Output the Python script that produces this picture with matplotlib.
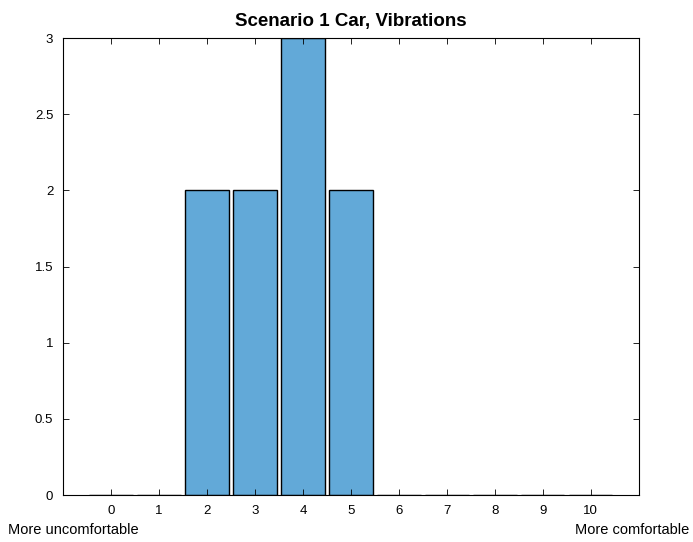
import matplotlib
matplotlib.use("Agg")
import matplotlib.pyplot as plt
import numpy as np

plt.rcParams['font.family'] = ['Liberation Sans', 'DejaVu Sans']

# rating (0 = more uncomfortable, 10 = more comfortable) and number of answers
ratings = [0, 1, 2, 3, 4, 5, 6, 7, 8, 9, 10]
counts = [0, 0, 2, 2, 3, 2, 0, 0, 0, 0, 0]
yticks = [0, 0.5, 1, 1.5, 2, 2.5, 3]

fig = plt.figure(figsize=(6.93, 5.42), dpi=100)
ax = fig.add_axes([0.0909, 0.0867, 0.831, 0.843])

ax.bar(ratings, counts, width=0.9, color='#62a9d8', edgecolor='black', linewidth=1.0)

ax.set_xlim(-1, 11)
ax.set_ylim(0, 3)
ax.set_xticks(ratings)
ax.set_yticks(yticks)
ax.set_yticklabels(['0', '0.5', '1', '1.5', '2', '2.5', '3'])
ax.tick_params(direction='in', top=True, right=True, labelsize=9.5, length=4, width=0.6, pad=7)
for s in ax.spines.values():
    s.set_linewidth(0.8)

ax.set_title('Scenario 1 Car, Vibrations', fontsize=13.5, fontweight='bold', pad=9)

fig.text(0.012, 0.009, 'More uncomfortable', fontsize=10.5, ha='left', va='bottom')
fig.text(0.995, 0.009, 'More comfortable', fontsize=10.5, ha='right', va='bottom')

fig.savefig('out.png', dpi=100)
